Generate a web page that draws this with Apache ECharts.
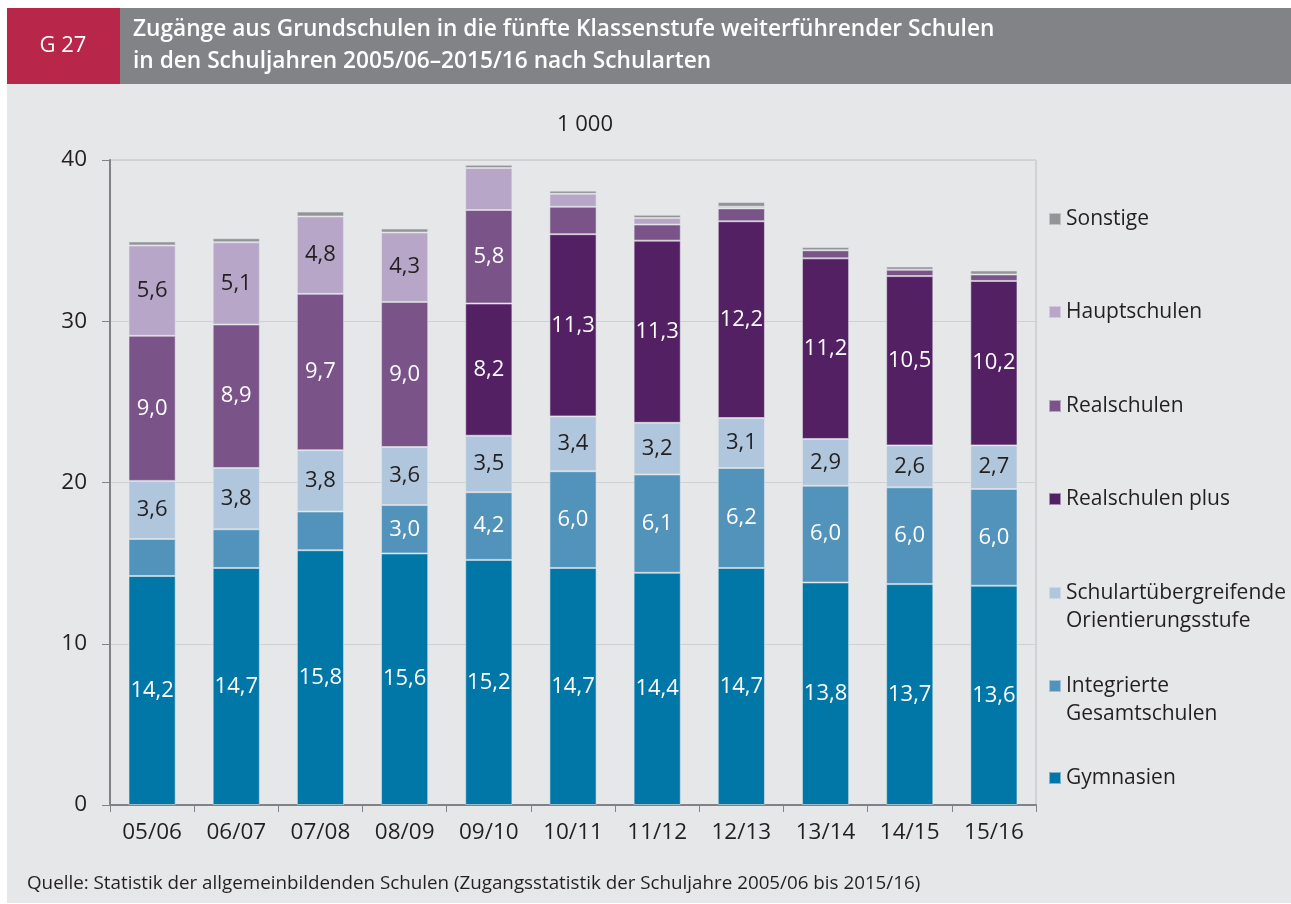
<!DOCTYPE html>
<html>
<head>
<meta charset="utf-8">
<script src="https://cdn.jsdelivr.net/npm/echarts@6/dist/echarts.min.js"></script>
<style>
  html, body { margin: 0; padding: 0; background: #fff; }
  #chart { width: 1291px; height: 904px; }
</style>
</head>
<body>
<div id="chart"></div>
<script>
  // Schuljahre
  const years = ['05/06', '06/07', '07/08', '08/09', '09/10', '10/11', '11/12', '12/13', '13/14', '14/15', '15/16'];

  // Werte in 1 000
  const gymnasien = [14.2, 14.7, 15.8, 15.6, 15.2, 14.7, 14.4, 14.7, 13.8, 13.7, 13.6];
  const gesamtschulen = [2.3, 2.4, 2.4, 3.0, 4.2, 6.0, 6.1, 6.2, 6.0, 6.0, 6.0];
  const orientierung = [3.6, 3.8, 3.8, 3.6, 3.5, 3.4, 3.2, 3.1, 2.9, 2.6, 2.7];
  const realschulenPlus = [null, null, null, null, 8.2, 11.3, 11.3, 12.2, 11.2, 10.5, 10.2];
  const realschulen = [9.0, 8.9, 9.7, 9.0, 5.8, 1.7, 1.0, 0.8, 0.5, 0.4, 0.4];
  const hauptschulen = [5.6, 5.1, 4.8, 4.3, 2.6, 0.8, 0.4, 0.1, 0, 0, 0];
  const sonstige = [0.25, 0.25, 0.3, 0.25, 0.2, 0.2, 0.2, 0.3, 0.2, 0.2, 0.25];

  const yTicks = [0, 10, 20, 30, 40];

  const FONT = 'Open Sans';
  const DARK = '#231f20';

  function fmt(v) {
    return v.toFixed(1).replace('.', ',');
  }

  // minLabel: kleinster Wert, der noch beschriftet wird
  function makeSeries(name, data, color, labelColor, minLabel) {
    return {
      name: name,
      type: 'bar',
      stack: 'total',
      data: data,
      barWidth: '56%',
      itemStyle: { color: color, borderColor: 'rgba(230,231,233,0.55)', borderWidth: 1 },
      label: {
        show: true,
        position: 'inside',
        color: labelColor,
        fontFamily: FONT,
        fontSize: 22,
        formatter: function (p) {
          if (p.value == null || p.value < minLabel) return '';
          return fmt(p.value);
        }
      },
      emphasis: { disabled: true }
    };
  }

  const series = [
    makeSeries('Gymnasien', gymnasien, '#0077a7', '#ffffff', 2.95),
    makeSeries('Integrierte\nGesamtschulen', gesamtschulen, '#5293bb', '#ffffff', 2.95),
    makeSeries('Schulartübergreifende\nOrientierungsstufe', orientierung, '#afc6dc', DARK, 0),
    makeSeries('Realschulen plus', realschulenPlus, '#532064', '#ffffff', 2.95),
    makeSeries('Realschulen', realschulen, '#7a5489', '#ffffff', 2.95),
    makeSeries('Hauptschulen', hauptschulen, '#b7a6c7', DARK, 2.95),
    makeSeries('Sonstige', sonstige, '#929497', DARK, 2.95)
  ];

  // Legende: ein Eintrag je Block, Mitte der ersten Zeile
  const legendRows = [
    ['Sonstige', 219],
    ['Hauptschulen', 312],
    ['Realschulen', 406],
    ['Realschulen plus', 499],
    ['Schulartübergreifende\nOrientierungsstufe', 593],
    ['Integrierte\nGesamtschulen', 686],
    ['Gymnasien', 778]
  ];

  const legends = legendRows.map(function (row) {
    const twoLines = row[0].indexOf('\n') >= 0;
    return {
      data: [row[0]],
      orient: 'vertical',
      left: 1048,
      top: twoLines ? row[1] - 42 : row[1] - 14,
      padding: 0,
      itemWidth: 12,
      itemHeight: 12,
      itemGap: 0,
      icon: 'rect',
      selectedMode: false,
      // leere erste Zeile, damit das Symbol neben der ersten Textzeile steht
      formatter: function (name) {
        return name.indexOf('\n') >= 0 ? ' \n' + name : name;
      },
      textStyle: {
        fontFamily: FONT,
        fontSize: 21,
        color: DARK,
        lineHeight: 28
      }
    };
  });

  const chart = echarts.init(document.getElementById('chart'));

  chart.setOption({
    backgroundColor: '#ffffff',
    animation: false,
    graphic: [
      { type: 'rect', z: -10, shape: { x: 7, y: 84, width: 1284, height: 819 }, style: { fill: '#e6e7e9' } },
      { type: 'rect', z: -10, shape: { x: 120, y: 8, width: 1171, height: 76 }, style: { fill: '#828386' } },
      { type: 'rect', z: -10, shape: { x: 7, y: 8, width: 113, height: 76 }, style: { fill: '#b8274a' } }
    ],
    title: [
      {
        text: 'G 27',
        left: 63, top: 46,
        textAlign: 'center', textVerticalAlign: 'middle',
        padding: 0,
        textStyle: { color: '#fff', fontFamily: FONT, fontSize: 22, fontWeight: 'normal' }
      },
      {
        text: 'Zugänge aus Grundschulen in die fünfte Klassenstufe weiterführender Schulen\nin den Schuljahren 2005/06–2015/16 nach Schularten',
        left: 133, top: 14,
        padding: 0,
        textStyle: { color: '#fff', fontFamily: FONT, fontSize: 22.7, fontWeight: 600, lineHeight: 32 }
      },
      {
        text: '1 000',
        left: 585, top: 125,
        textAlign: 'center', textVerticalAlign: 'middle',
        padding: 0,
        textStyle: { color: DARK, fontFamily: FONT, fontSize: 22, fontWeight: 'normal' }
      },
      {
        text: 'Quelle: Statistik der allgemeinbildenden Schulen (Zugangsstatistik der Schuljahre 2005/06 bis 2015/16)',
        left: 27, top: 874,
        padding: 0,
        textStyle: { color: DARK, fontFamily: FONT, fontSize: 18.8, fontWeight: 'normal' }
      }
    ],
    legend: legends,
    grid: {
      left: 110, right: 255, top: 160, bottom: 99,
      show: true,
      borderColor: '#bcbec0',
      borderWidth: 1,
      backgroundColor: 'transparent'
    },
    xAxis: {
      type: 'category',
      data: years,
      axisLine: { lineStyle: { color: '#808285', width: 2 } },
      axisTick: { show: true, length: 7, lineStyle: { color: '#808285' } },
      axisLabel: { color: DARK, fontFamily: FONT, fontSize: 22.5, margin: 16 }
    },
    yAxis: {
      type: 'value',
      min: yTicks[0],
      max: yTicks[yTicks.length - 1],
      interval: 10,
      axisLine: { show: true, lineStyle: { color: '#808285', width: 2 } },
      axisTick: { show: true, length: 8, lineStyle: { color: '#808285' } },
      axisLabel: { color: DARK, fontFamily: FONT, fontSize: 22.5, margin: 23 },
      splitLine: { lineStyle: { color: '#cfd0d2', width: 1 } }
    },
    series: series
  });
</script>
</body>
</html>
